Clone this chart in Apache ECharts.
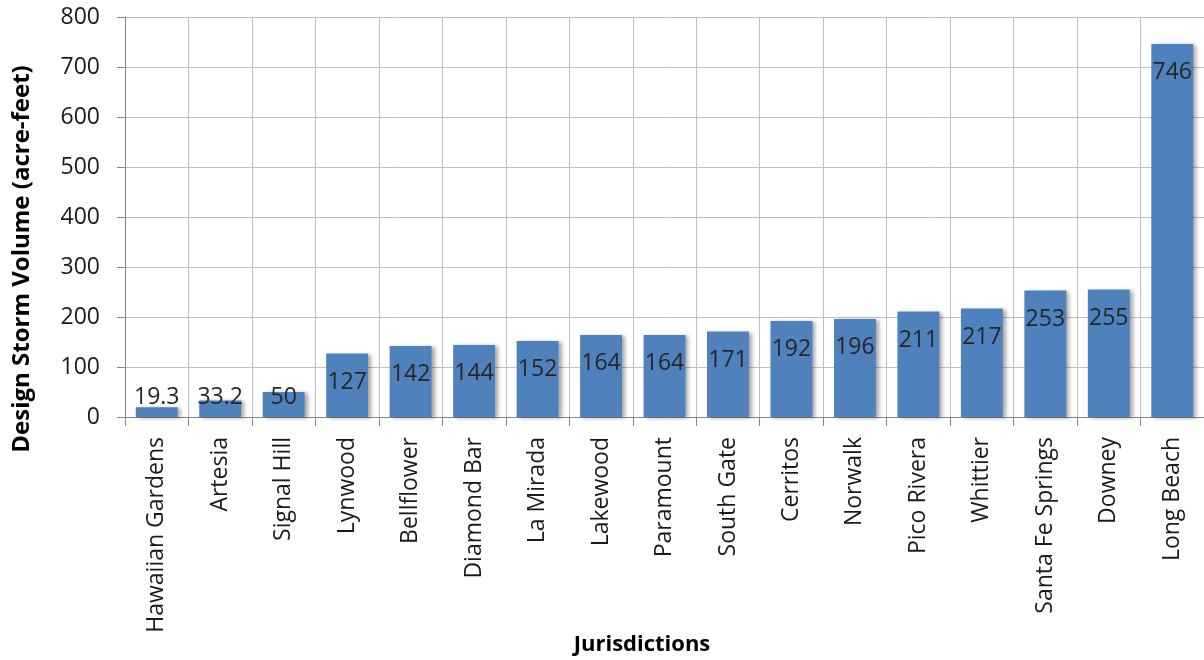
<!DOCTYPE html>
<html>
<head>
<meta charset="utf-8">
<script src="https://cdn.jsdelivr.net/npm/echarts@6/dist/echarts.min.js"></script>
<style>
html,body{margin:0;padding:0;background:#fff;}
#chart{width:1204px;height:660px;}
</style>
</head>
<body>
<div id="chart"></div>
<script>
var categories = ["Hawaiian Gardens","Artesia","Signal Hill","Lynwood","Bellflower","Diamond Bar","La Mirada","Lakewood","Paramount","South Gate","Cerritos","Norwalk","Pico Rivera","Whittier","Santa Fe Springs","Downey","Long Beach"];
var values = [19.3, 33.2, 50, 127, 142, 144, 152, 164, 164, 171, 192, 196, 211, 217, 253, 255, 746];
var yTicks = [0, 100, 200, 300, 400, 500, 600, 700, 800];
var yTitle = "Design Storm Volume (acre-feet)";
var xTitle = "Jurisdictions";

var FONT = "Open Sans";
var chart = echarts.init(document.getElementById('chart'), null, {renderer: 'canvas'});

var seriesData = values.map(function (v) {
  var item = {value: v};
  if (v < 80) {
    item.label = {position: 'insideBottom', distance: 8};
  }
  return item;
});

chart.setOption({
  animation: false,
  backgroundColor: '#ffffff',
  grid: {left: 125, top: 17, right: -5, bottom: 243, containLabel: false},
  xAxis: {
    type: 'category',
    data: categories,
    boundaryGap: true,
    axisLine: {show: true, lineStyle: {color: '#868686', width: 1}},
    axisTick: {show: true, alignWithLabel: false, length: 9, lineStyle: {color: '#868686'}},
    splitLine: {show: true, lineStyle: {color: '#c0c0c0', width: 1}},
    axisLabel: {
      interval: 0, rotate: 90, margin: 20,
      fontFamily: FONT, fontSize: 23, color: '#1a1a1a'
    }
  },
  yAxis: {
    type: 'value',
    min: yTicks[0], max: yTicks[yTicks.length - 1], interval: yTicks[1] - yTicks[0],
    axisLine: {show: true, lineStyle: {color: '#868686', width: 1}},
    axisTick: {show: true, inside: false, length: 8, lineStyle: {color: '#868686'}},
    splitLine: {show: true, lineStyle: {color: '#c0c0c0', width: 1}},
    axisLabel: {margin: 25, fontFamily: FONT, fontSize: 23, color: '#1a1a1a'}
  },
  series: [{
    type: 'bar',
    data: seriesData,
    barCategoryGap: '34%',
    itemStyle: {
      color: '#4f81bd',
      shadowColor: 'rgba(0,0,0,0.35)',
      shadowBlur: 4,
      shadowOffsetX: 3,
      shadowOffsetY: 1
    },
    label: {
      show: true,
      position: 'insideTop',
      distance: 17,
      fontFamily: FONT,
      fontSize: 23,
      color: '#262626'
    }
  }],
  graphic: [
    {
      type: 'text',
      x: 22, y: 259,
      rotation: Math.PI / 2,
      style: {
        text: yTitle,
        fontFamily: FONT, fontWeight: 'bold', fontSize: 24,
        fill: '#000000',
        align: 'center', verticalAlign: 'middle'
      }
    },
    {
      type: 'text',
      x: 642, y: 645,
      style: {
        text: xTitle,
        fontFamily: FONT, fontWeight: 'bold', fontSize: 22,
        fill: '#000000',
        align: 'center', verticalAlign: 'middle'
      }
    }
  ]
});
</script>
</body>
</html>
